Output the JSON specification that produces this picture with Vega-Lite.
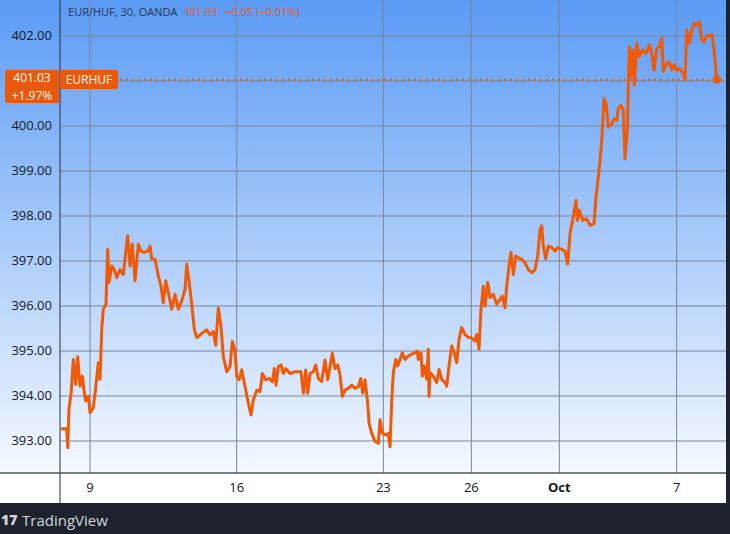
{
  "$schema": "https://vega.github.io/schema/vega-lite/v6.json",
  "description": "EUR/HUF 30 minute chart, OANDA",
  "width": 726,
  "height": 473,
  "autosize": "none",
  "padding": {"left": 0, "top": 0, "right": 4, "bottom": 61},
  "background": "#1e222d",
  "config": {
    "view": {
      "stroke": null,
      "fill": {
        "gradient": "linear", "x1": 0, "y1": 0, "x2": 0, "y2": 1,
        "stops": [{"offset": 0, "color": "#5a9bf5"}, {"offset": 1, "color": "#f5f9ff"}]
      }
    },
    "font": "Open Sans",
    "axis": {"title": null}
  },
  "datasets": {
    "eurhuf": [
      {"t": 0.010, "v": 393.27}, {"t": 0.205, "v": 393.27}, {"t": 0.239, "v": 392.85}, {"t": 0.283, "v": 393.74},
      {"t": 0.351, "v": 394.04}, {"t": 0.430, "v": 394.81}, {"t": 0.511, "v": 394.26}, {"t": 0.580, "v": 394.87},
      {"t": 0.658, "v": 394.22}, {"t": 0.736, "v": 394.44}, {"t": 0.805, "v": 394.07}, {"t": 0.852, "v": 393.89},
      {"t": 0.941, "v": 394.00}, {"t": 0.999, "v": 393.63}, {"t": 1.111, "v": 393.74}, {"t": 1.193, "v": 394.19},
      {"t": 1.282, "v": 394.74}, {"t": 1.340, "v": 394.37}, {"t": 1.398, "v": 395.48}, {"t": 1.452, "v": 395.93},
      {"t": 1.544, "v": 396.04}, {"t": 1.602, "v": 397.26}, {"t": 1.647, "v": 396.52}, {"t": 1.739, "v": 396.89},
      {"t": 1.827, "v": 396.81}, {"t": 1.909, "v": 396.63}, {"t": 2.022, "v": 396.81}, {"t": 2.134, "v": 396.70},
      {"t": 2.216, "v": 397.19}, {"t": 2.284, "v": 397.56}, {"t": 2.363, "v": 396.89}, {"t": 2.441, "v": 397.37},
      {"t": 2.533, "v": 396.56}, {"t": 2.646, "v": 397.37}, {"t": 2.738, "v": 397.22}, {"t": 2.850, "v": 397.19},
      {"t": 2.966, "v": 397.22}, {"t": 3.045, "v": 397.33}, {"t": 3.103, "v": 397.05}, {"t": 3.215, "v": 397.04},
      {"t": 3.328, "v": 396.67}, {"t": 3.420, "v": 396.44}, {"t": 3.498, "v": 396.07}, {"t": 3.580, "v": 396.56},
      {"t": 3.669, "v": 396.30}, {"t": 3.785, "v": 395.93}, {"t": 3.897, "v": 396.26}, {"t": 4.010, "v": 395.93},
      {"t": 4.125, "v": 396.11}, {"t": 4.238, "v": 396.37}, {"t": 4.296, "v": 396.93}, {"t": 4.374, "v": 396.56},
      {"t": 4.466, "v": 396.04}, {"t": 4.555, "v": 395.48}, {"t": 4.637, "v": 395.30}, {"t": 4.691, "v": 395.32},
      {"t": 4.807, "v": 395.39}, {"t": 4.978, "v": 395.47}, {"t": 5.090, "v": 395.36}, {"t": 5.203, "v": 395.43},
      {"t": 5.285, "v": 395.13}, {"t": 5.373, "v": 395.95}, {"t": 5.465, "v": 395.54}, {"t": 5.544, "v": 394.87},
      {"t": 5.660, "v": 394.54}, {"t": 5.772, "v": 394.65}, {"t": 5.851, "v": 395.21}, {"t": 5.943, "v": 395.00},
      {"t": 6.001, "v": 394.43}, {"t": 6.079, "v": 394.36}, {"t": 6.171, "v": 394.58}, {"t": 6.284, "v": 394.21},
      {"t": 6.396, "v": 393.84}, {"t": 6.488, "v": 393.58}, {"t": 6.567, "v": 393.91}, {"t": 6.683, "v": 394.13},
      {"t": 6.795, "v": 394.10}, {"t": 6.874, "v": 394.50}, {"t": 6.989, "v": 394.36}, {"t": 7.102, "v": 394.39},
      {"t": 7.215, "v": 394.32}, {"t": 7.283, "v": 394.61}, {"t": 7.341, "v": 394.24}, {"t": 7.419, "v": 394.65},
      {"t": 7.511, "v": 394.69}, {"t": 7.590, "v": 394.50}, {"t": 7.671, "v": 394.61}, {"t": 7.818, "v": 394.50},
      {"t": 7.988, "v": 394.54}, {"t": 8.193, "v": 394.54}, {"t": 8.271, "v": 394.06}, {"t": 8.353, "v": 394.58},
      {"t": 8.421, "v": 394.06}, {"t": 8.500, "v": 394.50}, {"t": 8.612, "v": 394.54}, {"t": 8.694, "v": 394.69},
      {"t": 8.783, "v": 394.39}, {"t": 8.899, "v": 394.32}, {"t": 9.011, "v": 394.80}, {"t": 9.103, "v": 394.36},
      {"t": 9.182, "v": 394.65}, {"t": 9.260, "v": 394.95}, {"t": 9.352, "v": 394.61}, {"t": 9.444, "v": 394.69},
      {"t": 9.523, "v": 394.47}, {"t": 9.601, "v": 393.99}, {"t": 9.693, "v": 394.13}, {"t": 9.806, "v": 394.17},
      {"t": 9.922, "v": 394.24}, {"t": 10.034, "v": 394.17}, {"t": 10.147, "v": 394.21}, {"t": 10.229, "v": 394.39},
      {"t": 10.297, "v": 394.06}, {"t": 10.375, "v": 394.36}, {"t": 10.467, "v": 393.84}, {"t": 10.512, "v": 393.39},
      {"t": 10.604, "v": 393.17}, {"t": 10.716, "v": 392.99}, {"t": 10.829, "v": 392.95}, {"t": 10.887, "v": 393.47},
      {"t": 10.965, "v": 393.17}, {"t": 11.115, "v": 393.13}, {"t": 11.170, "v": 393.17}, {"t": 11.228, "v": 392.87},
      {"t": 11.285, "v": 393.90}, {"t": 11.340, "v": 394.52}, {"t": 11.422, "v": 394.81}, {"t": 11.490, "v": 394.67},
      {"t": 11.568, "v": 394.81}, {"t": 11.647, "v": 394.96}, {"t": 11.739, "v": 394.81}, {"t": 11.851, "v": 394.89},
      {"t": 11.967, "v": 394.93}, {"t": 12.080, "v": 394.96}, {"t": 12.158, "v": 395.00}, {"t": 12.192, "v": 394.81},
      {"t": 12.284, "v": 394.96}, {"t": 12.329, "v": 394.44}, {"t": 12.397, "v": 394.67}, {"t": 12.479, "v": 394.37},
      {"t": 12.533, "v": 395.04}, {"t": 12.557, "v": 393.99}, {"t": 12.591, "v": 394.52}, {"t": 12.704, "v": 394.44},
      {"t": 12.820, "v": 394.30}, {"t": 12.898, "v": 394.59}, {"t": 12.990, "v": 394.37}, {"t": 13.103, "v": 394.30},
      {"t": 13.161, "v": 394.22}, {"t": 13.239, "v": 394.67}, {"t": 13.331, "v": 395.11}, {"t": 13.420, "v": 394.96},
      {"t": 13.502, "v": 394.74}, {"t": 13.580, "v": 395.26}, {"t": 13.672, "v": 395.52}, {"t": 13.785, "v": 395.37},
      {"t": 13.897, "v": 395.30}, {"t": 13.989, "v": 395.30}, {"t": 14.126, "v": 395.22}, {"t": 14.184, "v": 395.37},
      {"t": 14.262, "v": 395.04}, {"t": 14.330, "v": 395.93}, {"t": 14.409, "v": 396.44}, {"t": 14.467, "v": 396.00},
      {"t": 14.559, "v": 396.52}, {"t": 14.637, "v": 396.19}, {"t": 14.750, "v": 396.26}, {"t": 14.865, "v": 396.04},
      {"t": 14.978, "v": 396.15}, {"t": 15.056, "v": 396.22}, {"t": 15.148, "v": 395.96}, {"t": 15.206, "v": 396.44},
      {"t": 15.285, "v": 396.89}, {"t": 15.353, "v": 397.19}, {"t": 15.432, "v": 396.70}, {"t": 15.513, "v": 397.11},
      {"t": 15.602, "v": 397.07}, {"t": 15.718, "v": 397.04}, {"t": 15.831, "v": 396.96}, {"t": 15.943, "v": 396.81},
      {"t": 16.059, "v": 396.74}, {"t": 16.171, "v": 396.81}, {"t": 16.263, "v": 397.11}, {"t": 16.342, "v": 397.70},
      {"t": 16.400, "v": 397.78}, {"t": 16.454, "v": 397.33}, {"t": 16.536, "v": 397.05}, {"t": 16.625, "v": 397.33},
      {"t": 16.741, "v": 397.30}, {"t": 16.853, "v": 397.22}, {"t": 16.945, "v": 397.30}, {"t": 17.082, "v": 397.26},
      {"t": 17.194, "v": 397.22}, {"t": 17.286, "v": 396.93}, {"t": 17.365, "v": 397.61}, {"t": 17.477, "v": 397.98},
      {"t": 17.569, "v": 398.35}, {"t": 17.614, "v": 397.90}, {"t": 17.682, "v": 398.13}, {"t": 17.798, "v": 397.90},
      {"t": 17.934, "v": 397.94}, {"t": 18.047, "v": 397.79}, {"t": 18.183, "v": 397.83}, {"t": 18.251, "v": 398.42},
      {"t": 18.330, "v": 398.87}, {"t": 18.388, "v": 399.24}, {"t": 18.446, "v": 399.68}, {"t": 18.524, "v": 400.61},
      {"t": 18.592, "v": 400.50}, {"t": 18.671, "v": 399.98}, {"t": 18.786, "v": 400.05}, {"t": 18.865, "v": 400.16},
      {"t": 18.957, "v": 400.13}, {"t": 19.012, "v": 400.39}, {"t": 19.093, "v": 400.46}, {"t": 19.182, "v": 400.35},
      {"t": 19.240, "v": 399.27}, {"t": 19.318, "v": 399.90}, {"t": 19.386, "v": 401.76}, {"t": 19.434, "v": 401.10},
      {"t": 19.502, "v": 401.69}, {"t": 19.557, "v": 400.91}, {"t": 19.639, "v": 401.84}, {"t": 19.727, "v": 401.54},
      {"t": 19.843, "v": 401.69}, {"t": 19.956, "v": 401.61}, {"t": 20.068, "v": 401.80}, {"t": 20.150, "v": 401.61},
      {"t": 20.229, "v": 401.24}, {"t": 20.321, "v": 401.73}, {"t": 20.409, "v": 401.76}, {"t": 20.491, "v": 401.95},
      {"t": 20.546, "v": 401.21}, {"t": 20.638, "v": 401.36}, {"t": 20.750, "v": 401.43}, {"t": 20.832, "v": 401.24},
      {"t": 20.911, "v": 401.36}, {"t": 21.003, "v": 401.24}, {"t": 21.115, "v": 401.28}, {"t": 21.207, "v": 401.17},
      {"t": 21.286, "v": 401.02}, {"t": 21.344, "v": 402.13}, {"t": 21.432, "v": 401.84}, {"t": 21.514, "v": 402.13},
      {"t": 21.593, "v": 402.28}, {"t": 21.684, "v": 402.24}, {"t": 21.773, "v": 402.32}, {"t": 21.855, "v": 401.91},
      {"t": 21.933, "v": 401.87}, {"t": 22.025, "v": 401.99}, {"t": 22.138, "v": 402.02}, {"t": 22.196, "v": 402.04},
      {"t": 22.250, "v": 401.84}, {"t": 22.308, "v": 401.47}, {"t": 22.366, "v": 401.03}
    ],
    "hgrid": [
      {"v": 393}, {"v": 394}, {"v": 395}, {"v": 396}, {"v": 397},
      {"v": 398}, {"v": 399}, {"v": 400}, {"v": 401}, {"v": 402}
    ],
    "vgrid": [
      {"t": 1, "label": "9"}, {"t": 6, "label": "16"}, {"t": 11, "label": "23"},
      {"t": 14, "label": "26"}, {"t": 17, "label": "Oct"}, {"t": 21, "label": "7"}
    ],
    "one": [{}]
  },
  "data": {"name": "eurhuf"},
  "layer": [
    {
      "data": {"name": "one"},
      "mark": {"type": "rect", "color": "#ffffff", "clip": false},
      "encoding": {
        "x": {"datum": -2.07, "type": "quantitative", "scale": {"domain": [-2.07, 22.683], "nice": false, "zero": false}, "axis": null},
        "x2": {"datum": 22.683},
        "y": {"datum": 392.289, "type": "quantitative", "scale": {"domain": [392.289, 402.8], "nice": false, "zero": false}, "axis": null},
        "y2": {"datum": 391.622}
      }
    },
    {
      "data": {"name": "hgrid"},
      "mark": {"type": "rule", "color": "#7b8596", "strokeWidth": 1},
      "encoding": {
        "x": {"datum": -0.024, "type": "quantitative", "scale": {"domain": [-2.07, 22.683], "nice": false, "zero": false}, "axis": null},
        "x2": {"datum": 22.683},
        "y": {"field": "v", "type": "quantitative", "scale": {"domain": [392.289, 402.8], "nice": false, "zero": false}, "axis": null}
      }
    },
    {
      "data": {"name": "vgrid"},
      "mark": {"type": "rule", "color": "#7b8596", "strokeWidth": 1},
      "encoding": {
        "x": {"field": "t", "type": "quantitative", "scale": {"domain": [-2.07, 22.683], "nice": false, "zero": false}, "axis": null},
        "y": {"datum": 392.289, "type": "quantitative", "scale": {"domain": [392.289, 402.8], "nice": false, "zero": false}, "axis": null},
        "y2": {"datum": 402.8}
      }
    },
    {
      "data": {"name": "one"},
      "mark": {"type": "rule", "color": "#2a2e39", "strokeWidth": 1, "clip": false},
      "encoding": {
        "x": {"datum": -0.024, "type": "quantitative", "scale": {"domain": [-2.07, 22.683], "nice": false, "zero": false}, "axis": null},
        "y": {"datum": 402.8, "type": "quantitative", "scale": {"domain": [392.289, 402.8], "nice": false, "zero": false}, "axis": null},
        "y2": {"datum": 391.622}
      }
    },
    {
      "data": {"name": "one"},
      "mark": {"type": "rule", "color": "#50535e", "strokeWidth": 1.5, "clip": false},
      "encoding": {
        "x": {"datum": -2.07, "type": "quantitative", "scale": {"domain": [-2.07, 22.683], "nice": false, "zero": false}, "axis": null},
        "x2": {"datum": 22.683},
        "y": {"datum": 392.289, "type": "quantitative", "scale": {"domain": [392.289, 402.8], "nice": false, "zero": false}, "axis": null}
      }
    },
    {
      "data": {"name": "hgrid"},
      "transform": [{"filter": "datum.v != 401"}],
      "mark": {"type": "text", "color": "#131722", "fontSize": 13, "align": "right", "baseline": "middle"},
      "encoding": {
        "x": {"datum": -0.297, "type": "quantitative", "scale": {"domain": [-2.07, 22.683], "nice": false, "zero": false}, "axis": null},
        "y": {"field": "v", "type": "quantitative", "scale": {"domain": [392.289, 402.8], "nice": false, "zero": false}, "axis": null},
        "text": {"field": "v", "type": "quantitative", "format": ".2f"}
      }
    },
    {
      "data": {"name": "vgrid"},
      "transform": [{"filter": "datum.label != 'Oct'"}],
      "mark": {"type": "text", "color": "#131722", "fontSize": 13, "align": "center", "baseline": "middle", "clip": false},
      "encoding": {
        "x": {"field": "t", "type": "quantitative", "scale": {"domain": [-2.07, 22.683], "nice": false, "zero": false}, "axis": null},
        "y": {"datum": 391.956, "type": "quantitative", "scale": {"domain": [392.289, 402.8], "nice": false, "zero": false}, "axis": null},
        "text": {"field": "label"}
      }
    },
    {
      "data": {"name": "vgrid"},
      "transform": [{"filter": "datum.label == 'Oct'"}],
      "mark": {"type": "text", "color": "#131722", "fontSize": 13, "fontWeight": "bold", "align": "center", "baseline": "middle", "clip": false},
      "encoding": {
        "x": {"field": "t", "type": "quantitative", "scale": {"domain": [-2.07, 22.683], "nice": false, "zero": false}, "axis": null},
        "y": {"datum": 391.956, "type": "quantitative", "scale": {"domain": [392.289, 402.8], "nice": false, "zero": false}, "axis": null},
        "text": {"field": "label"}
      }
    },
    {
      "data": {"name": "one"},
      "mark": {"type": "rule", "color": "#e8590c", "strokeWidth": 2, "strokeDash": [2, 4]},
      "encoding": {
        "x": {"datum": -0.024, "type": "quantitative", "scale": {"domain": [-2.07, 22.683], "nice": false, "zero": false}, "axis": null},
        "x2": {"datum": 22.683},
        "y": {"datum": 401.03, "type": "quantitative", "scale": {"domain": [392.289, 402.8], "nice": false, "zero": false}, "axis": null}
      }
    },
    {
      "mark": {"type": "line", "color": "#f05a06", "strokeWidth": 3, "strokeJoin": "round"},
      "encoding": {
        "x": {"field": "t", "type": "quantitative", "scale": {"domain": [-2.07, 22.683], "nice": false, "zero": false}, "axis": null},
        "y": {"field": "v", "type": "quantitative", "scale": {"domain": [392.289, 402.8], "nice": false, "zero": false}, "axis": null}
      }
    },
    {
      "transform": [{"filter": "datum.t == 22.366"}],
      "mark": {"type": "point", "filled": true, "color": "#f05a06", "size": 70, "opacity": 1},
      "encoding": {
        "x": {"field": "t", "type": "quantitative", "scale": {"domain": [-2.07, 22.683], "nice": false, "zero": false}, "axis": null},
        "y": {"field": "v", "type": "quantitative", "scale": {"domain": [392.289, 402.8], "nice": false, "zero": false}, "axis": null}
      }
    },
    {
      "data": {"name": "one"},
      "mark": {"type": "rect", "color": "#e8590c", "cornerRadius": 2},
      "encoding": {
        "x": {"datum": -1.899, "type": "quantitative", "scale": {"domain": [-2.07, 22.683], "nice": false, "zero": false}, "axis": null},
        "x2": {"datum": -0.058},
        "y": {"datum": 401.244, "type": "quantitative", "scale": {"domain": [392.289, 402.8], "nice": false, "zero": false}, "axis": null},
        "y2": {"datum": 400.511}
      }
    },
    {
      "data": {"name": "one"},
      "mark": {"type": "rect", "color": "#e8590c", "cornerRadius": 2},
      "encoding": {
        "x": {"datum": -0.024, "type": "quantitative", "scale": {"domain": [-2.07, 22.683], "nice": false, "zero": false}, "axis": null},
        "x2": {"datum": 1.954},
        "y": {"datum": 401.244, "type": "quantitative", "scale": {"domain": [392.289, 402.8], "nice": false, "zero": false}, "axis": null},
        "y2": {"datum": 400.822}
      }
    },
    {
      "data": {"name": "one"},
      "mark": {"type": "text", "color": "#ffffff", "fontSize": 12, "align": "center", "baseline": "middle"},
      "encoding": {
        "x": {"datum": -0.979, "type": "quantitative", "scale": {"domain": [-2.07, 22.683], "nice": false, "zero": false}, "axis": null},
        "y": {"datum": 401.056, "type": "quantitative", "scale": {"domain": [392.289, 402.8], "nice": false, "zero": false}, "axis": null},
        "text": {"value": "401.03"}
      }
    },
    {
      "data": {"name": "one"},
      "mark": {"type": "text", "color": "#ffffff", "fontSize": 12, "align": "center", "baseline": "middle"},
      "encoding": {
        "x": {"datum": -0.979, "type": "quantitative", "scale": {"domain": [-2.07, 22.683], "nice": false, "zero": false}, "axis": null},
        "y": {"datum": 400.667, "type": "quantitative", "scale": {"domain": [392.289, 402.8], "nice": false, "zero": false}, "axis": null},
        "text": {"value": "+1.97%"}
      }
    },
    {
      "data": {"name": "one"},
      "mark": {"type": "text", "color": "#ffffff", "fontSize": 12, "align": "center", "baseline": "middle"},
      "encoding": {
        "x": {"datum": 0.965, "type": "quantitative", "scale": {"domain": [-2.07, 22.683], "nice": false, "zero": false}, "axis": null},
        "y": {"datum": 401.033, "type": "quantitative", "scale": {"domain": [392.289, 402.8], "nice": false, "zero": false}, "axis": null},
        "text": {"value": "EURHUF"}
      }
    },
    {
      "data": {"name": "one"},
      "mark": {"type": "text", "color": "#2b3950", "fontSize": 11, "align": "left", "baseline": "middle"},
      "encoding": {
        "x": {"datum": 0.249, "type": "quantitative", "scale": {"domain": [-2.07, 22.683], "nice": false, "zero": false}, "axis": null},
        "y": {"datum": 402.511, "type": "quantitative", "scale": {"domain": [392.289, 402.8], "nice": false, "zero": false}, "axis": null},
        "text": {"value": "EUR/HUF, 30, OANDA"}
      }
    },
    {
      "data": {"name": "one"},
      "mark": {"type": "text", "color": "#e4582a", "fontSize": 11, "align": "left", "baseline": "middle"},
      "encoding": {
        "x": {"datum": 4.170, "type": "quantitative", "scale": {"domain": [-2.07, 22.683], "nice": false, "zero": false}, "axis": null},
        "y": {"datum": 402.511, "type": "quantitative", "scale": {"domain": [392.289, 402.8], "nice": false, "zero": false}, "axis": null},
        "text": {"value": "401.03"}
      }
    },
    {
      "data": {"name": "one"},
      "mark": {"type": "text", "color": "#e4582a", "fontSize": 11, "align": "left", "baseline": "middle"},
      "encoding": {
        "x": {"datum": 5.602, "type": "quantitative", "scale": {"domain": [-2.07, 22.683], "nice": false, "zero": false}, "axis": null},
        "y": {"datum": 402.511, "type": "quantitative", "scale": {"domain": [392.289, 402.8], "nice": false, "zero": false}, "axis": null},
        "text": {"value": "−0.05 (−0.01%)"}
      }
    },
    {
      "data": {"name": "one"},
      "mark": {"type": "text", "color": "#d1d4dc", "fontSize": 14, "fontWeight": 900, "align": "left", "baseline": "middle", "clip": false},
      "encoding": {
        "x": {"datum": -2.036, "type": "quantitative", "scale": {"domain": [-2.07, 22.683], "nice": false, "zero": false}, "axis": null},
        "y": {"datum": 391.222, "type": "quantitative", "scale": {"domain": [392.289, 402.8], "nice": false, "zero": false}, "axis": null},
        "text": {"value": "17"}
      }
    },
    {
      "data": {"name": "one"},
      "mark": {"type": "text", "color": "#d1d4dc", "fontSize": 15, "align": "left", "baseline": "middle", "clip": false},
      "encoding": {
        "x": {"datum": -1.319, "type": "quantitative", "scale": {"domain": [-2.07, 22.683], "nice": false, "zero": false}, "axis": null},
        "y": {"datum": 391.222, "type": "quantitative", "scale": {"domain": [392.289, 402.8], "nice": false, "zero": false}, "axis": null},
        "text": {"value": "TradingView"}
      }
    }
  ]
}
